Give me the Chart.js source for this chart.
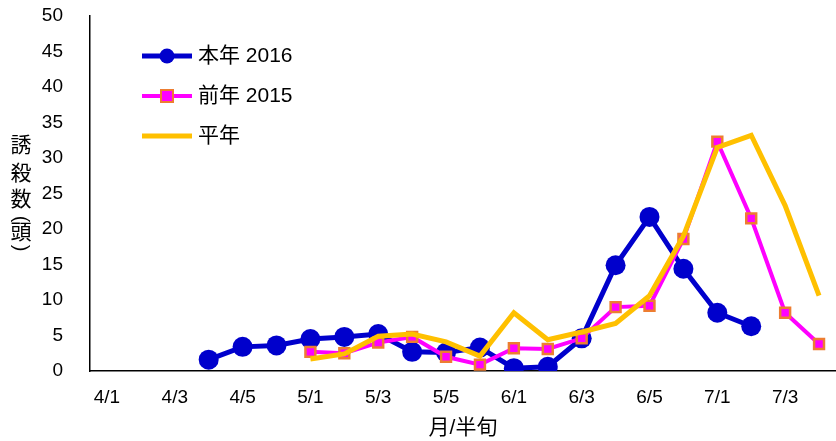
<!DOCTYPE html>
<html>
<head>
<meta charset="utf-8">
<script src="https://cdn.jsdelivr.net/npm/chart.js@4"></script>
<style>
  html, body { margin: 0; padding: 0; background: #fff; overflow: hidden; }
  #wrap { width: 846px; height: 441px; }
</style>
</head>
<body>
<div id="wrap"><canvas id="chart" width="846" height="441"></canvas></div>
<script>
// Data
const categories = [
    "4/1", "4/2", "4/3", "4/4", "4/5", "4/6",
    "5/1", "5/2", "5/3", "5/4", "5/5", "5/6",
    "6/1", "6/2", "6/3", "6/4", "6/5", "6/6",
    "7/1", "7/2", "7/3", "7/4"
];
const thisYear = [null, null, null, 1.6, 3.4, 3.6, 4.5, 4.8, 5.2, 2.7, 2.6, 3.3,
    0.4, 0.6, 4.6, 14.9, 21.7, 14.4, 8.2, 6.3, null, null];
const lastYear = [null, null, null, null, null, null, 2.7, 2.5, 4.0, 4.8, 2.0, 0.9,
    3.2, 3.1, 4.6, 9.0, 9.2, 18.6, 32.3, 21.5, 8.2, 3.8];
const normalYear = [null, null, null, null, null, null, 1.7, 2.4, 4.9, 5.2, 4.1, 2.1,
    8.2, 4.4, 5.5, 6.7, 10.6, 19.0, 31.5, 33.2, 23.3, 10.6];
const seriesNames = ["本年 2016", "前年 2015", "平年"];
const yTicks = [0, 5, 10, 15, 20, 25, 30, 35, 40, 45, 50];

const FONT = '"Liberation Sans", "Noto Sans CJK JP", sans-serif';
const BLUE = "#0000CC";
const PINK = "#FF00FF";
const ORANGE = "#ED7D31";
const YELLOW = "#FFC000";

// Legend drawn inside the plot, top left
const legendPlugin = {
    id: "innerLegend",
    afterDraw(chart) {
        const ctx = chart.ctx;
        const rows = [56, 96, 136];
        ctx.save();
        rows.forEach((y, i) => {
            const ds = chart.data.datasets[i];
            ctx.strokeStyle = ds.borderColor;
            ctx.lineWidth = ds.borderWidth;
            ctx.beginPath();
            ctx.moveTo(142, y);
            ctx.lineTo(192, y);
            ctx.stroke();
            if (i === 0) {
                ctx.fillStyle = BLUE;
                ctx.beginPath();
                ctx.arc(167, y, 7.5, 0, Math.PI * 2);
                ctx.fill();
            } else if (i === 1) {
                ctx.fillStyle = PINK;
                ctx.strokeStyle = ORANGE;
                ctx.lineWidth = 2;
                ctx.fillRect(161, y - 6, 12, 12);
                ctx.strokeRect(161, y - 6, 12, 12);
            }
            ctx.fillStyle = "#000";
            ctx.font = "21px " + FONT;
            ctx.textBaseline = "middle";
            ctx.textAlign = "left";
            ctx.fillText(ds.label, 198, y);
        });
        ctx.restore();
    }
};

// Vertical y axis title, characters upright
const yTitlePlugin = {
    id: "yTitle",
    afterDraw(chart) {
        const ctx = chart.ctx;
        const x = 21;
        ctx.save();
        ctx.fillStyle = "#000";
        ctx.font = "21px " + FONT;
        ctx.textAlign = "center";
        ctx.textBaseline = "middle";
        [["誘", 146], ["殺", 174], ["数", 200], ["頭", 233]].forEach(([c, y]) => ctx.fillText(c, x, y));
        [["(", 219], [")", 248]].forEach(([c, y]) => {
            ctx.save();
            ctx.translate(x, y);
            ctx.rotate(Math.PI / 2);
            ctx.font = "20px " + FONT;
            ctx.fillText(c, 0, 0);
            ctx.restore();
        });
        ctx.restore();
    }
};

new Chart(document.getElementById("chart"), {
    type: "line",
    data: {
        labels: categories,
        datasets: [{
            label: seriesNames[0],
            data: thisYear,
            borderColor: BLUE,
            backgroundColor: BLUE,
            borderWidth: 5,
            pointRadius: 10,
            pointBorderWidth: 0,
            pointBackgroundColor: BLUE,
            order: 3
        }, {
            label: seriesNames[1],
            data: lastYear,
            borderColor: PINK,
            backgroundColor: PINK,
            borderWidth: 4,
            pointStyle: "rect",
            pointRadius: 7,
            pointBorderWidth: 2.5,
            pointBorderColor: ORANGE,
            pointBackgroundColor: PINK,
            order: 2
        }, {
            label: seriesNames[2],
            data: normalYear,
            borderColor: YELLOW,
            backgroundColor: YELLOW,
            borderWidth: 5,
            pointRadius: 0,
            order: 1
        }]
    },
    options: {
        responsive: false,
        animation: false,
        spanGaps: false,
        layout: { padding: { top: 16, right: 1, bottom: 0, left: 0 } },
        plugins: {
            legend: { display: false },
            tooltip: { enabled: false }
        },
        elements: { line: { tension: 0 } },
        scales: {
            x: {
                offset: true,
                grid: { display: false, drawTicks: false },
                border: { display: true, color: "#000", width: 1.5 },
                ticks: {
                    autoSkip: false,
                    maxRotation: 0,
                    padding: 15,
                    color: "#000",
                    font: { family: FONT, size: 19 },
                    callback: (v, i) => (i % 2 === 0 ? categories[i] : "")
                },
                title: {
                    display: true,
                    text: "月/半旬",
                    color: "#000",
                    font: { family: FONT, size: 21 },
                    padding: { top: 0, bottom: 0 }
                },
                afterFit: (scale) => { scale.height = 70; }
            },
            y: {
                min: 0,
                max: 50,
                // tick marks are hidden; their length only sets the label gap
                grid: { display: false, drawTicks: true, tickLength: 27 },
                border: { display: true, color: "#000", width: 1.5 },
                afterBuildTicks: (scale) => { scale.ticks = yTicks.map(v => ({ value: v })); },
                ticks: {
                    padding: 0,
                    color: "#000",
                    font: { family: FONT, size: 19 }
                },
                afterFit: (scale) => { scale.width = 90; }
            }
        }
    },
    plugins: [legendPlugin, yTitlePlugin]
});
</script>
</body>
</html>
